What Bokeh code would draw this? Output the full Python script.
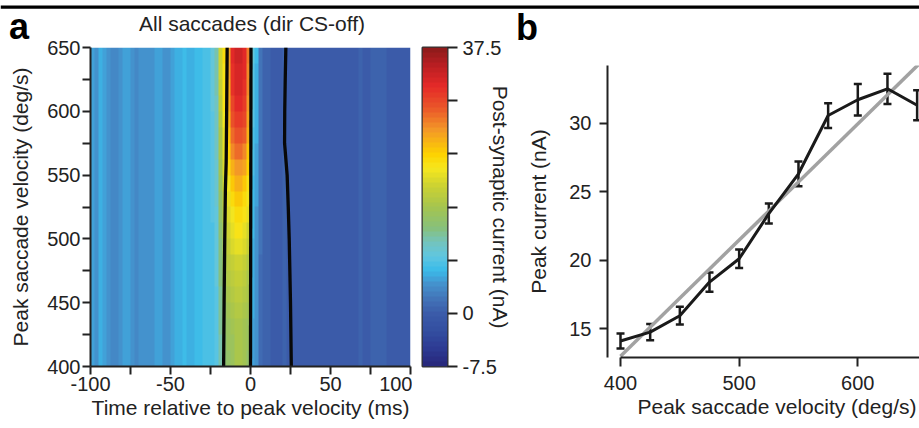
import numpy as np
from bokeh.plotting import figure
from bokeh.models import (LinearColorMapper, FixedTicker, ColumnDataSource, Whisker,
                          TeeHead, Label, Range1d, Title, Span)
from bokeh.layouts import row, column
from bokeh.embed import file_html
from bokeh.resources import INLINE

FONT = "Liberation Sans"
TXT = "#222222"

# ---------------- Panel a: heat map data ----------------
heat_t_start, heat_t_step = -100.0, 2.5          # 80 time columns of 2.5 ms
heat_v_start, heat_v_step = 400.0, 12.5          # 20 velocity rows of 12.5 deg/s

# columns t = -100 ... -27.5 (left of response)
left_cols = [4.5, 4.3, 5.5, 5.0, 3.8, 3.6, 3.7, 4.0, 5.0, 4.5,
             3.9, 3.7, 3.9, 4.1, 3.9, 4.2, 5.0, 4.6, 4.2, 4.4,
             4.9, 5.2, 5.6, 5.9, 5.5, 5.8, 6.1, 6.3, 6.6, 7.0]
# columns t = -25 ... 5 (response band), rows 400 ... 637.5 deg/s
band_rows = [
    [6.8, 7.8, 10.5, 12.5, 13.5, 14.0, 15.0, 15.0, 14.3, 13.5, 5.0, 3.8, 1.5],
    [6.8, 7.8, 10.6, 12.7, 13.8, 14.2, 15.2, 15.2, 14.5, 13.7, 5.0, 3.8, 1.5],
    [6.8, 7.8, 10.8, 13.0, 14.2, 14.6, 15.5, 15.5, 14.8, 14.0, 5.1, 3.9, 1.5],
    [6.9, 7.9, 11.0, 13.3, 14.6, 15.0, 16.0, 16.0, 15.2, 14.4, 5.2, 3.9, 1.5],
    [6.9, 7.9, 11.2, 13.7, 15.2, 15.8, 16.8, 16.8, 16.0, 15.0, 5.3, 4.0, 1.6],
    [7.0, 8.0, 11.5, 14.2, 15.8, 16.6, 17.6, 17.6, 16.8, 15.6, 5.4, 4.0, 1.6],
    [7.0, 8.1, 11.8, 14.8, 16.5, 17.5, 18.5, 18.5, 17.6, 16.3, 5.5, 4.1, 1.6],
    [7.1, 8.3, 12.1, 15.4, 17.3, 18.7, 19.8, 19.8, 18.8, 17.2, 5.7, 4.2, 1.7],
    [7.2, 8.5, 12.5, 16.0, 18.0, 19.7, 20.8, 20.8, 19.8, 18.5, 5.9, 4.3, 1.7],
    [7.3, 8.6, 12.9, 16.6, 18.8, 20.6, 21.8, 21.8, 20.8, 19.3, 6.1, 4.4, 1.8],
    [7.4, 8.8, 13.3, 17.3, 19.6, 21.6, 23.0, 23.0, 22.0, 20.2, 6.3, 4.6, 1.8],
    [7.5, 9.0, 13.9, 18.0, 20.5, 23.0, 24.5, 24.5, 23.4, 21.2, 6.5, 4.7, 1.9],
    [7.6, 9.2, 14.5, 18.7, 21.5, 24.5, 26.0, 26.0, 25.0, 22.3, 6.7, 4.9, 1.9],
    [7.7, 9.4, 15.0, 19.3, 22.4, 26.4, 28.0, 28.0, 26.8, 23.4, 6.9, 5.0, 2.0],
    [7.8, 9.6, 15.5, 19.8, 23.2, 27.9, 29.5, 29.5, 28.4, 24.4, 7.1, 5.2, 2.0],
    [7.9, 9.8, 16.2, 20.3, 23.9, 29.4, 31.0, 31.0, 29.9, 25.2, 7.3, 5.3, 2.1],
    [8.0, 10.0, 16.9, 20.7, 24.4, 30.4, 32.0, 32.0, 30.9, 25.9, 7.5, 5.5, 2.1],
    [8.0, 10.2, 17.6, 21.0, 24.8, 31.2, 32.8, 32.8, 31.7, 26.4, 7.7, 5.6, 2.2],
    [8.1, 10.4, 18.1, 21.3, 25.1, 31.6, 33.2, 33.2, 32.1, 26.8, 7.9, 5.8, 2.2],
    [8.1, 10.5, 18.5, 21.5, 25.3, 31.9, 33.5, 33.5, 32.4, 27.0, 8.0, 5.9, 2.3],
]
# columns t = 7.5 ... 97.5 (after response)
right_cols = [0.8, 0.4, 0.1, -0.2, 0.0, 0.3, 0.2, -0.1, -0.3, -0.2,
              0.0, 0.2, 0.0, -0.2, -0.4, -0.3, -0.1, 0.1, 0.2, 0.0,
              -0.2, -0.3, -0.2, 0.0, 0.3, 0.2, 0.0, 0.4, 0.9, 0.6,
              0.3, 0.0, -0.2, -0.3, -0.2, 0.0, 0.2]

# black contour lines (time, velocity)
line1_t = [-16.8, -16.5, -16.1, -15.7, -15.2, -14.9, -14.6]
line1_v = [400, 450, 500, 538, 560, 600, 650]
line2_t = [0.0, 0.3]
line2_v = [400, 650]
line3_t = [25.5, 25.0, 24.2, 23.6, 22.9, 21.3, 21.4, 21.7, 22.1]
line3_v = [400, 450, 500, 525, 550, 575, 600, 625, 650]

cbar_low, cbar_high = -7.5, 37.5
cbar_labelled = [-7.5, 0, 37.5]
cbar_minor = [7.5, 15, 22.5, 30]

# ---------------- Panel b data ----------------
vel_b = [400, 425, 450, 475, 500, 525, 550, 575, 600, 625, 650]
peak_b = [14.1, 14.75, 15.95, 18.4, 20.1, 23.4, 26.3, 30.55, 31.7, 32.5, 31.3]
sem_b = [0.55, 0.6, 0.65, 0.7, 0.67, 0.73, 0.9, 0.9, 1.15, 1.1, 1.1]
fit_x = [400, 655]
fit_y = [13.0, 34.6]

# ---------------- colour map (desaturated jet) ----------------
stops = [(-7.5, "#27267a"), (-5.0, "#2d3a92"), (-2.5, "#334ea0"), (0.0, "#3b5ca9"),
         (2.0, "#4274b8"), (4.0, "#4590cc"), (6.0, "#3abbe9"), (8.0, "#60c6e0"),
         (10.0, "#74c4bc"), (12.0, "#88c07a"), (15.0, "#a6c44e"), (18.0, "#cbd232"),
         (20.5, "#f6e71e"), (22.5, "#fdd200"), (26.0, "#f39628"), (29.0, "#ea5629"),
         (32.0, "#e52a28"), (35.0, "#b91e22"), (37.5, "#8a1a1a")]


def hex2rgb(h):
    return [int(h[i:i + 2], 16) for i in (1, 3, 5)]


sv = np.array([s[0] for s in stops])
sc = np.array([hex2rgb(s[1]) for s in stops], dtype=float)
NLEV = 64
lev_centers = cbar_low + (np.arange(NLEV) + 0.5) * (cbar_high - cbar_low) / NLEV
palette = []
for v in lev_centers:
    rgb = [int(round(np.interp(v, sv, sc[:, k]))) for k in range(3)]
    palette.append("#%02x%02x%02x" % tuple(rgb))
mapper = LinearColorMapper(palette=palette, low=cbar_low, high=cbar_high)

heat = np.array([left_cols + r + right_cols for r in band_rows], dtype=float)
n_rows, n_cols = heat.shape


def style_axis(ax, tick_out, lab_standoff, ax_standoff):
    ax.axis_line_width = 2
    ax.axis_line_color = TXT
    ax.major_tick_line_width = 2
    ax.major_tick_line_color = TXT
    ax.minor_tick_line_width = 2
    ax.minor_tick_line_color = TXT
    ax.major_tick_out = tick_out
    ax.major_tick_in = 0
    ax.minor_tick_out = tick_out
    ax.minor_tick_in = 0
    ax.major_label_text_font = FONT
    ax.major_label_text_font_size = "20px"
    ax.major_label_text_color = TXT
    ax.major_label_standoff = lab_standoff
    ax.axis_label_text_font = FONT
    ax.axis_label_text_font_size = "21px"
    ax.axis_label_text_font_style = "normal"
    ax.axis_label_text_color = TXT
    ax.axis_label_standoff = ax_standoff


def no_align(p):
    if "frame_align" in p.properties():
        p.frame_align = False


HEAD_H = 48       # header canvas height
OVERLAP = 13      # the plot row starts this many pixels above the header's bottom
H = 392           # plot row height (row spans y = 35 ... 427)

# ---------------- header (top rule, panel letters, title) ----------------
head = figure(width=919, height=HEAD_H, x_range=Range1d(0, 919), y_range=Range1d(HEAD_H, 0),
              output_backend="svg", toolbar_location=None,
              x_axis_location=None, y_axis_location=None, min_border=0,
              margin=(0, 0, -OVERLAP, 0))
head.outline_line_color = None
head.grid.visible = False
head.add_layout(Span(location=6.6, dimension="width", line_color="#000000", line_width=3.4))
head.add_layout(Label(x=8.5, y=26.0, text="a", text_font=FONT, text_font_size="36px",
                      text_font_style="bold", text_color="#000000",
                      text_baseline="alphabetic"))
head.add_layout(Label(x=251.5, y=23.2, text="All saccades (dir CS-off)", text_font=FONT,
                      text_font_size="21px", text_color=TXT, text_align="center",
                      text_baseline="alphabetic"))
head.add_layout(Label(x=515.5, y=26.5, text="b", text_font=FONT, text_font_size="36px",
                      text_font_style="bold", text_color="#000000",
                      text_baseline="alphabetic"))
no_align(head)

# ---------------- Panel a figure ----------------
pa = figure(width=412, height=H, x_range=Range1d(-100, 100), y_range=Range1d(400, 650),
            output_backend="svg", toolbar_location=None, border_fill_color=None,
            min_border_left=90, min_border_right=2, min_border_top=12, min_border_bottom=61)
no_align(pa)
pa.outline_line_color = None
pa.grid.visible = False
pa.image(image=[heat], x=heat_t_start, y=heat_v_start,
         dw=n_cols * heat_t_step, dh=n_rows * heat_v_step, color_mapper=mapper)
for tt, vv in ((line1_t, line1_v), (line2_t, line2_v), (line3_t, line3_v)):
    pa.line(tt, vv, line_width=3.3, color="#080808", line_join="round")

pa.xaxis.ticker = FixedTicker(ticks=[-100, -50, 0, 50, 100], minor_ticks=[-75, -25, 25, 75])
pa.xaxis.major_label_overrides = {-100: "-100", -50: "-50"}
pa.yaxis.ticker = FixedTicker(ticks=[400, 450, 500, 550, 600, 650],
                              minor_ticks=[425, 475, 525, 575, 625])
pa.xaxis.axis_label = "Time relative to peak velocity (ms)"
pa.yaxis.axis_label = "Peak saccade velocity (deg/s)"
style_axis(pa.xaxis[0], 8, 2, 2)
style_axis(pa.yaxis[0], 8, 2, 12)

# ---------------- colour bar figure ----------------
pc = figure(width=103, height=H, x_range=Range1d(0, 1), y_range=Range1d(cbar_low, cbar_high),
            output_backend="svg", toolbar_location=None, x_axis_location=None,
            y_axis_location="right", border_fill_color=None,
            min_border_left=10, min_border_right=65, min_border_top=12, min_border_bottom=61)
no_align(pc)
pc.grid.visible = False
pc.outline_line_color = "#333333"
pc.outline_line_width = 2
pc.image(image=[lev_centers.reshape(-1, 1)], x=0, y=cbar_low, dw=1,
         dh=cbar_high - cbar_low, color_mapper=mapper)
pc.yaxis.ticker = FixedTicker(ticks=cbar_labelled, minor_ticks=cbar_minor)
pc.yaxis.major_label_overrides = {0: "0", -7.5: "-7.5", 37.5: "37.5"}
pc.yaxis.axis_label = "Post-synaptic current (nA)"
style_axis(pc.yaxis[0], 10, 5, -15)
pc.yaxis.axis_line_color = None

# ---------------- Panel b figure ----------------
pb = figure(width=404, height=H, x_range=Range1d(389.04, 652.0), y_range=Range1d(12.9, 34.2),
            output_backend="svg", toolbar_location=None, border_fill_color=None,
            min_border_left=92, min_border_right=0, min_border_top=30, min_border_bottom=70)
no_align(pb)
pb.outline_line_color = None
pb.grid.visible = False
pb.line(fit_x, fit_y, line_width=3.5, color="#a2a2a2")
pb.line(vel_b, peak_b, line_width=3, color="#1a1a1a", line_join="round")
src = ColumnDataSource(dict(x=vel_b,
                            upper=[m + e for m, e in zip(peak_b, sem_b)],
                            lower=[m - e for m, e in zip(peak_b, sem_b)]))
pb.add_layout(Whisker(source=src, base="x", upper="upper", lower="lower",
                      line_width=2.5, line_color="#1a1a1a",
                      upper_head=TeeHead(size=8, line_width=2.5, line_color="#1a1a1a"),
                      lower_head=TeeHead(size=8, line_width=2.5, line_color="#1a1a1a")))
pb.xaxis.ticker = FixedTicker(ticks=[400, 500, 600, 700])
pb.xaxis.bounds = (400, 700)
pb.yaxis.ticker = FixedTicker(ticks=[15, 20, 25, 30])
pb.yaxis.axis_label = "Peak current (nA)"
style_axis(pb.xaxis[0], 9, 9, 0)
style_axis(pb.yaxis[0], 8, 8, 16)
pb.add_layout(Title(text="Peak saccade velocity (deg/s)", align="left", offset=30, standoff=0,
                    text_font=FONT, text_font_size="21px", text_font_style="normal",
                    text_color=TXT), "below")

layout = column(head, row(pa, pc, pb))
open("out.html", "w").write(file_html(layout, INLINE))
